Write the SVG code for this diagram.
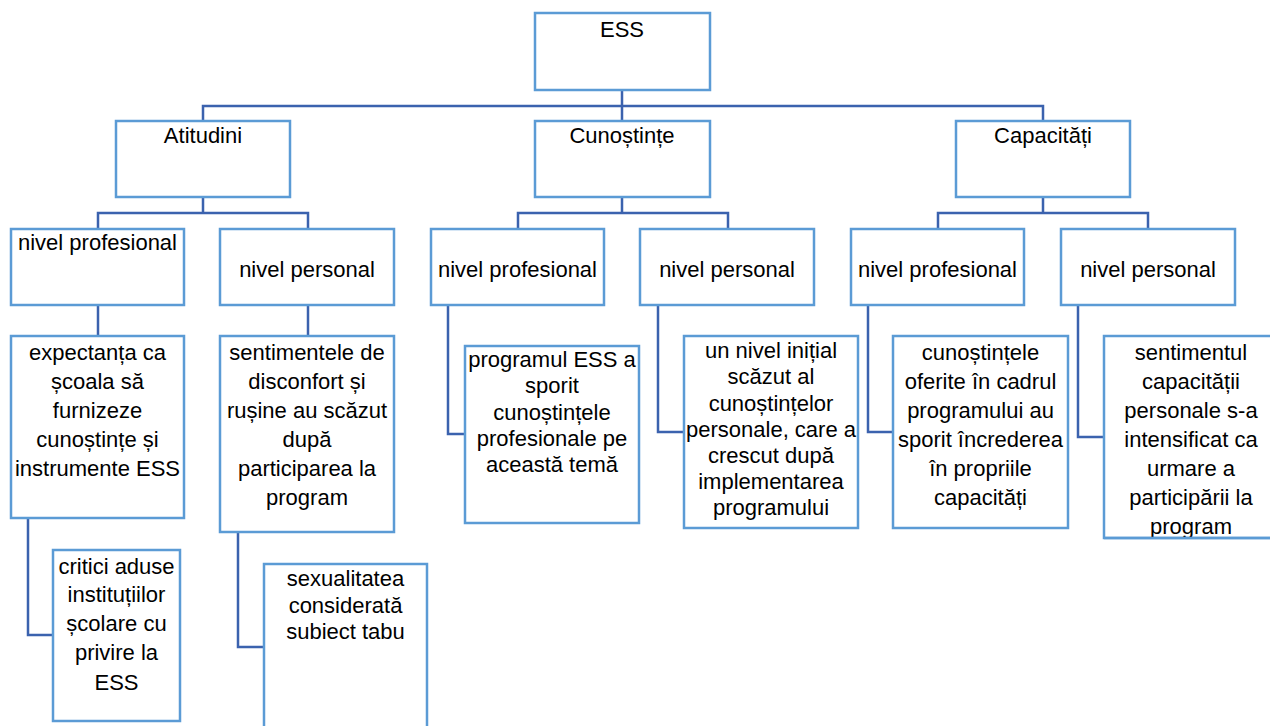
<svg xmlns="http://www.w3.org/2000/svg" width="1270" height="726" viewBox="0 0 1270 726">
<style>
.box{fill:#fff;stroke:#5B9BD5;stroke-width:2.5}
.con{fill:none;stroke:#3B62AE;stroke-width:2.5}
text{font-family:"Liberation Sans",Arial,sans-serif;font-size:22px;fill:#000;text-anchor:middle}
</style>
<defs>
<clipPath id="clipSent"><rect x="1104" y="336" width="180" height="202"/></clipPath>
</defs>
<rect width="1270" height="726" fill="#fff"/>
<g id="connectors">
<path class="con" d="M622,90 V121 M203,121 V106 H1043 V121"/>
<path class="con" d="M203,197 V213 M98,229 V213 H308 V229"/>
<path class="con" d="M622,197 V213 M518,229 V213 H728 V229"/>
<path class="con" d="M1043,197 V213 M938,229 V213 H1148 V229"/>
<path class="con" d="M98,305 V336"/>
<path class="con" d="M308,305 V336"/>
<path class="con" d="M28,518 V635 H53"/>
<path class="con" d="M238,532 V647 H264"/>
<path class="con" d="M448,305 V434 H465"/>
<path class="con" d="M658,305 V432 H684"/>
<path class="con" d="M868,305 V432 H893"/>
<path class="con" d="M1078,305 V437 H1104"/>
</g>
<g id="ess"><rect class="box" x="535" y="13" width="175" height="77"/><text x="622" y="37">ESS</text></g>
<g id="atitudini"><rect class="box" x="116" y="121" width="174" height="76"/><text x="203" y="143">Atitudini</text></g>
<g id="cunostinte"><rect class="box" x="535" y="121" width="175" height="76"/><text x="622" y="143">Cunoștințe</text></g>
<g id="capacitati"><rect class="box" x="956" y="121" width="174" height="76"/><text x="1043" y="143">Capacități</text></g>

<g id="att-prof"><rect class="box" x="11" y="229" width="173" height="76"/><text x="97.5" y="250">nivel profesional</text></g>
<g id="att-pers"><rect class="box" x="220" y="229" width="174" height="76"/><text x="307" y="277">nivel personal</text></g>
<g id="cun-prof"><rect class="box" x="431" y="229" width="173" height="76"/><text x="517.5" y="277">nivel profesional</text></g>
<g id="cun-pers"><rect class="box" x="640" y="229" width="174" height="76"/><text x="727" y="277">nivel personal</text></g>
<g id="cap-prof"><rect class="box" x="851" y="229" width="173" height="76"/><text x="937.5" y="277">nivel profesional</text></g>
<g id="cap-pers"><rect class="box" x="1061" y="229" width="174" height="76"/><text x="1148" y="277">nivel personal</text></g>

<g id="expectanta"><rect class="box" x="11" y="336" width="173" height="182"/>
<text x="97.5" y="360">expectanța ca</text><text x="97.5" y="389">școala să</text><text x="97.5" y="418">furnizeze</text><text x="97.5" y="447">cunoștințe și</text><text x="97.5" y="476">instrumente ESS</text></g>
<g id="sentimentele"><rect class="box" x="220" y="336" width="174" height="196"/>
<text x="307" y="360">sentimentele de</text><text x="307" y="389">disconfort și</text><text x="307" y="418">rușine au scăzut</text><text x="307" y="447">după</text><text x="307" y="476">participarea la</text><text x="307" y="505">program</text></g>
<g id="critici"><rect class="box" x="53" y="550" width="127" height="171"/>
<text x="116.5" y="574">critici aduse</text><text x="116.5" y="602">instituțiilor</text><text x="116.5" y="631">școlare cu</text><text x="116.5" y="660">privire la</text><text x="116.5" y="690">ESS</text></g>
<g id="sexualitatea"><rect class="box" x="264" y="564" width="163" height="170"/>
<text x="345.5" y="586">sexualitatea</text><text x="345.5" y="613">considerată</text><text x="345.5" y="639">subiect tabu</text></g>
<g id="programul"><rect class="box" x="465" y="346" width="174" height="177"/>
<text x="552" y="367">programul ESS a</text><text x="552" y="393">sporit</text><text x="552" y="420">cunoștințele</text><text x="552" y="446">profesionale pe</text><text x="552" y="472">această temă</text></g>
<g id="unnivel"><rect class="box" x="684" y="336" width="174" height="192"/>
<text x="771" y="358">un nivel inițial</text><text x="771" y="384">scăzut al</text><text x="771" y="411">cunoștințelor</text><text x="771" y="437">personale, care a</text><text x="771" y="463">crescut după</text><text x="771" y="489">implementarea</text><text x="771" y="515">programului</text></g>
<g id="cunostintele"><rect class="box" x="893" y="336" width="175" height="192"/>
<text x="980.5" y="360">cunoștințele</text><text x="980.5" y="389">oferite în cadrul</text><text x="980.5" y="418">programului au</text><text x="980.5" y="447">sporit încrederea</text><text x="980.5" y="476">în propriile</text><text x="980.5" y="505">capacități</text></g>
<g id="sentimentul"><rect class="box" x="1104" y="336" width="175" height="202"/>
<g clip-path="url(#clipSent)"><text x="1191" y="360">sentimentul</text><text x="1191" y="389">capacității</text><text x="1191" y="418">personale s-a</text><text x="1191" y="447">intensificat ca</text><text x="1191" y="476">urmare a</text><text x="1191" y="505">participării la</text><text x="1191" y="534">program</text></g>
<path d="M1104,538 H1279" stroke="#5B9BD5" stroke-width="2.5"/></g>
</svg>
